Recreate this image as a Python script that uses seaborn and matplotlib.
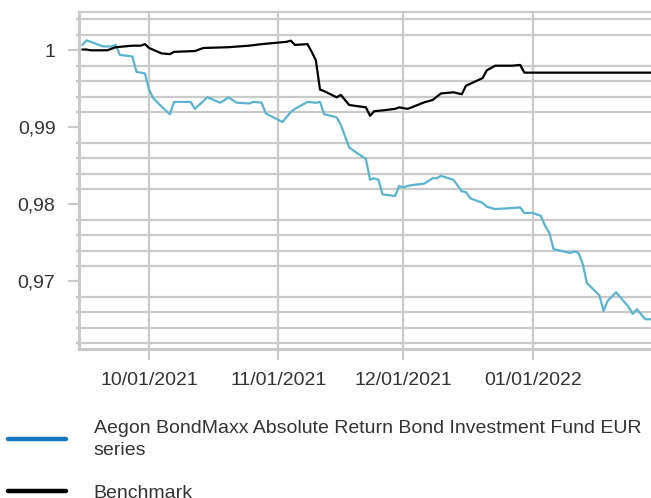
import pandas as pd
import matplotlib
matplotlib.use("Agg")
import matplotlib.pyplot as plt
from matplotlib.lines import Line2D
from matplotlib.ticker import FixedLocator, MultipleLocator, FixedFormatter
import seaborn as sns

fund_name = "Aegon BondMaxx Absolute Return Bond Investment Fund EUR\nseries"
bench_name = "Benchmark"

fund_dates = [
    "2021-09-15", "2021-09-16", "2021-09-20", "2021-09-22", "2021-09-23", "2021-09-24",
    "2021-09-27", "2021-09-28", "2021-09-30", "2021-10-01", "2021-10-02", "2021-10-04",
    "2021-10-06", "2021-10-07", "2021-10-11", "2021-10-12", "2021-10-15", "2021-10-18",
    "2021-10-19", "2021-10-20", "2021-10-22", "2021-10-25", "2021-10-26", "2021-10-28",
    "2021-10-29", "2021-11-02", "2021-11-04", "2021-11-05", "2021-11-08", "2021-11-10",
    "2021-11-11", "2021-11-12", "2021-11-15", "2021-11-16", "2021-11-18", "2021-11-19",
    "2021-11-22", "2021-11-23", "2021-11-24", "2021-11-25", "2021-11-26", "2021-11-29",
    "2021-11-30", "2021-12-01", "2021-12-02", "2021-12-03", "2021-12-06", "2021-12-08",
    "2021-12-09", "2021-12-10", "2021-12-13", "2021-12-15", "2021-12-16", "2021-12-17",
    "2021-12-20", "2021-12-21", "2021-12-23", "2021-12-26", "2021-12-29", "2021-12-30",
    "2022-01-01", "2022-01-03", "2022-01-04", "2022-01-05", "2022-01-06", "2022-01-10",
    "2022-01-11", "2022-01-12", "2022-01-13", "2022-01-14", "2022-01-17", "2022-01-18",
    "2022-01-19", "2022-01-21", "2022-01-24", "2022-01-25", "2022-01-26", "2022-01-28",
    "2022-01-31",
]
fund_values = [
    1.0007, 1.0013, 1.0005, 1.0005, 1.0007, 0.9994,
    0.9992, 0.9972, 0.9970, 0.9949, 0.9938, 0.9927,
    0.9917, 0.9933, 0.9933, 0.9924, 0.9939, 0.9932,
    0.9935, 0.9939, 0.9932, 0.9931, 0.9933, 0.9932,
    0.9918, 0.9907, 0.9920, 0.9924, 0.9933, 0.9932,
    0.9933, 0.9917, 0.9913, 0.9903, 0.9874, 0.9870,
    0.9859, 0.9832, 0.9834, 0.9832, 0.9813, 0.9811,
    0.9824, 0.9822, 0.9824, 0.9825, 0.9827, 0.9834,
    0.9834, 0.9837, 0.9832, 0.9817, 0.9816, 0.9808,
    0.9802, 0.9797, 0.9794, 0.9795, 0.9796, 0.9789,
    0.9789, 0.9785, 0.9772, 0.9763, 0.9742, 0.9737,
    0.9739, 0.9737, 0.9723, 0.9698, 0.9682, 0.9662,
    0.9675, 0.9686, 0.9667, 0.9658, 0.9664, 0.9651,
    0.9651,
]

bench_dates = [
    "2021-09-15", "2021-09-16", "2021-09-17", "2021-09-21", "2021-09-23", "2021-09-25",
    "2021-09-27", "2021-09-29", "2021-09-30", "2021-10-01", "2021-10-04", "2021-10-06",
    "2021-10-07", "2021-10-12", "2021-10-14", "2021-10-20", "2021-10-25", "2021-10-28",
    "2021-11-01", "2021-11-03", "2021-11-04", "2021-11-05", "2021-11-08", "2021-11-09",
    "2021-11-10", "2021-11-11", "2021-11-12", "2021-11-15", "2021-11-16", "2021-11-18",
    "2021-11-22", "2021-11-23", "2021-11-24", "2021-11-26", "2021-11-29", "2021-11-30",
    "2021-12-02", "2021-12-03", "2021-12-06", "2021-12-08", "2021-12-10", "2021-12-13",
    "2021-12-15", "2021-12-16", "2021-12-20", "2021-12-21", "2021-12-23", "2021-12-27",
    "2021-12-29", "2021-12-30", "2022-01-31",
]
bench_values = [
    1.0001, 1.0001, 1.0000, 1.0000, 1.0004, 1.0005,
    1.0006, 1.0006, 1.0008, 1.0003, 0.9996, 0.9995,
    0.9998, 0.9999, 1.0003, 1.0004, 1.0006, 1.0008,
    1.0010, 1.0011, 1.00125, 1.0007, 1.0008, 0.9998,
    0.9987, 0.9949, 0.9947, 0.9939, 0.9942, 0.9929,
    0.9926, 0.9915, 0.9921, 0.9922, 0.9924, 0.9926,
    0.9924, 0.9926, 0.99325, 0.99355, 0.9944, 0.99455,
    0.9943, 0.9954, 0.9964, 0.9974, 0.9980, 0.9980,
    0.9981, 0.9971, 0.9971,
]

ytick_values = [0.97, 0.98, 0.99, 1.0]
ytick_labels = ["0,97", "0,98", "0,99", "1"]
xtick_dates = ["2021-10-01", "2021-11-01", "2021-12-01", "2022-01-01"]
xtick_labels = ["10/01/2021", "11/01/2021", "12/01/2021", "01/01/2022"]

sns.set_style("white")
plt.rcParams["font.family"] = ["Liberation Sans", "DejaVu Sans"]

GRID = "#cacaca"
TEXT = "#333333"

fig = plt.figure(figsize=(6.51, 4.98), dpi=100)
ax = fig.add_axes([0.1214, 0.2986, 0.8786, 0.6773])

df_f = pd.DataFrame({"date": pd.to_datetime(fund_dates), "value": fund_values})
df_b = pd.DataFrame({"date": pd.to_datetime(bench_dates), "value": bench_values})

sns.lineplot(data=df_f, x="date", y="value", ax=ax, color="#5ab4cf", lw=1.6, zorder=3)
sns.lineplot(data=df_b, x="date", y="value", ax=ax, color="black", lw=1.6, zorder=4)

ax.set_xlim(pd.Timestamp("2021-09-14 05:00"), pd.Timestamp("2022-01-29 09:00"))
ax.set_ylim(0.9612, 1.00497)

ax.yaxis.set_major_locator(FixedLocator(ytick_values))
ax.yaxis.set_major_formatter(FixedFormatter(ytick_labels))
ax.yaxis.set_minor_locator(MultipleLocator(0.002))
xt = [matplotlib.dates.date2num(pd.Timestamp(d)) for d in xtick_dates]
ax.xaxis.set_major_locator(FixedLocator(xt))
ax.xaxis.set_major_formatter(FixedFormatter(xtick_labels))

ax.grid(False)
ax.grid(True, which="minor", axis="y", color=GRID, lw=1.6)
ax.grid(True, which="major", axis="x", color=GRID, lw=1.6)
ax.set_axisbelow(True)

ax.tick_params(axis="y", which="major", left=True, length=8, width=1.6, color=GRID,
               labelsize=14, labelcolor=TEXT, pad=9)
ax.tick_params(axis="y", which="minor", left=True, length=2.5, width=1.6, color=GRID)
ax.tick_params(axis="x", which="major", bottom=True, length=8, width=1.6, color=GRID,
               labelsize=14, labelcolor=TEXT, pad=8)

for side in ["left", "bottom"]:
    ax.spines[side].set_color(GRID)
    ax.spines[side].set_linewidth(2.2)
ax.spines["top"].set_color(GRID)
ax.spines["top"].set_linewidth(1.6)
ax.spines["right"].set_visible(False)

ax.set_xlabel("")
ax.set_ylabel("")

handles = [Line2D([], [], color="#1a75bf", lw=3.2), Line2D([], [], color="black", lw=3.2)]
leg = fig.legend(handles=handles, labels=[fund_name, bench_name], loc="upper left",
                 bbox_to_anchor=(8 / 651, 1 - 420 / 498), frameon=False, fontsize=14,
                 handlelength=3.0, handletextpad=1.4, labelspacing=1.3,
                 borderaxespad=0, borderpad=0, labelcolor=TEXT)
for t in leg.get_texts():
    t.set_linespacing(1.37)

fig.savefig("out.png", dpi=100)
